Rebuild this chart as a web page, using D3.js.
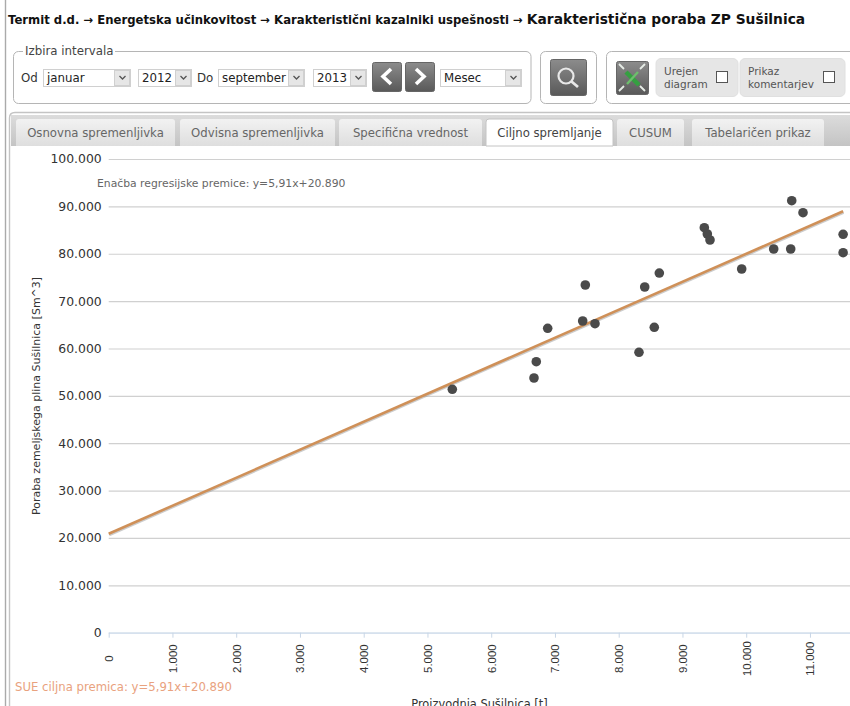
<!DOCTYPE html>
<html>
<head>
<meta charset="utf-8">
<script src="https://cdn.jsdelivr.net/npm/d3@7"></script>
<style>
  html, body { margin: 0; padding: 0; background: #fff; overflow: hidden; }
  text { font-family: "DejaVu Sans", sans-serif; }
</style>
</head>
<body>
<div id="chart"></div>
<script>
// values
var prodX = [5390, 6671, 6707, 6886, 7435, 7476, 7628, 8318, 8408, 8558, 8637, 9343, 9390, 9432, 9929, 10431, 10698, 10714, 10891, 11520, 11520];
var gasY = [51380, 53770, 57210, 64260, 65800, 73400, 65230, 59190, 72980, 64470, 75930, 85500, 84170, 82900, 76780, 81000, 81000, 91200, 88660, 84100, 80220];
var lineX = [0, 11520];
var lineY = [20890, 88970];
var xTicks = [0, 1000, 2000, 3000, 4000, 5000, 6000, 7000, 8000, 9000, 10000, 11000];
var yTicks = [0, 10000, 20000, 30000, 40000, 50000, 60000, 70000, 80000, 90000, 100000];
var tabNames = ['Osnovna spremenljivka', 'Odvisna spremenljivka', 'Specifična vrednost', 'Ciljno spremljanje', 'CUSUM', 'Tabelaričen prikaz'];

var w = 850, h = 706;
var svg = d3.select('#chart').append('svg')
    .attr('width', w)
    .attr('height', h)
    .style('display', 'block');

var defs = svg.append('defs');
function gradient(id, top, bottom) {
    var g = defs.append('linearGradient').attr('id', id).attr('x1', 0).attr('x2', 0).attr('y1', 0).attr('y2', 1);
    g.append('stop').attr('offset', '0%').attr('stop-color', top);
    g.append('stop').attr('offset', '100%').attr('stop-color', bottom);
}
gradient('strip', '#dcdcdc', '#c4c4c4');
gradient('tab', '#f2f2f2', '#dedede');
gradient('btn', '#8c8c8c', '#595959');

// page borders
svg.append('line').attr('x1', 5.5).attr('x2', 5.5).attr('y1', 0).attr('y2', h).attr('stroke', '#aaa').attr('stroke-width', 1.4);
svg.append('path').attr('d', 'M850,112.5H15Q9.5,112.5 9.5,118V706').attr('fill', 'none').attr('stroke', '#c4c4c4').attr('stroke-width', 1.4);

// breadcrumb
var crumb = svg.append('text').attr('x', 8).attr('y', 24).attr('fill', '#111');
crumb.append('tspan').attr('font-size', 11.66).attr('font-weight', 'bold').text('Termit d.d. → Energetska učinkovitost → Karakteristični kazalniki uspešnosti → ');
crumb.append('tspan').attr('font-size', 13.8).attr('font-weight', 'bold').text('Karakteristična poraba ZP Sušilnica');

// toolbar helpers
function box(x, y, bw, bh, r, fill, stroke) {
    return svg.append('rect').attr('x', x).attr('y', y).attr('width', bw).attr('height', bh).attr('rx', r)
        .attr('fill', fill).attr('stroke', stroke);
}
function label(x, y, txt, size, color) {
    return svg.append('text').attr('x', x).attr('y', y).attr('font-size', size).attr('fill', color).text(txt);
}
function select(x, bw, txt) {
    box(x + 0.5, 69.5, bw, 17, 0, '#fff', '#d0d0d0');
    box(x + bw - 15.5, 70.5, 15, 15, 0, '#e6e6e6', '#d0d0d0');
    svg.append('path').attr('d', 'M' + (x + bw - 10.5) + ',76l3,3l3,-3').attr('fill', 'none').attr('stroke', '#555').attr('stroke-width', 1.3);
    label(x + 4, 82, txt, 11.8, '#222');
}
function button(x, y, bw, bh) {
    box(x + 0.5, y + 0.5, bw, bh, 2, 'url(#btn)', '#666');
}

box(13.5, 51.5, 517.5, 52, 5, '#fff', '#b5b5b5');
svg.append('rect').attr('x', 23).attr('y', 46).attr('width', 92).attr('height', 10).attr('fill', '#fff');
label(25, 54.5, 'Izbira intervala', 11.8, '#444');
label(21, 82, 'Od', 11.8, '#333');
select(43, 87, 'januar');
select(138, 53, '2012');
label(197, 82, 'Do', 11.8, '#333');
select(218, 86, 'september');
select(313, 53, '2013');
button(372, 62, 29, 29);
svg.append('path').attr('d', 'M391,69l-8,7.5l8,7.5').attr('fill', 'none').attr('stroke', '#fff').attr('stroke-width', 3.6);
button(405, 62, 29, 29);
svg.append('path').attr('d', 'M416,69l8,7.5l-8,7.5').attr('fill', 'none').attr('stroke', '#fff').attr('stroke-width', 3.6);
select(440, 81, 'Mesec');

box(540.5, 51.5, 56, 52, 5, '#fff', '#b5b5b5');
button(550, 59, 36, 36);
svg.append('circle').attr('cx', 566).attr('cy', 76).attr('r', 7.5).attr('fill', 'none').attr('stroke', '#e8e8e8').attr('stroke-width', 2.2);
svg.append('line').attr('x1', 571.5).attr('y1', 81.5).attr('x2', 578).attr('y2', 87).attr('stroke', '#e8e8e8').attr('stroke-width', 2.8);

box(606.5, 51.5, 260, 52, 5, '#fff', '#b5b5b5');
button(616, 61, 32, 33);
svg.append('path').attr('d', 'M626,72L639,85').attr('stroke', '#35a041').attr('stroke-width', 4.5).attr('fill', 'none');
svg.append('path').attr('d', 'M638,72L627,84').attr('stroke', '#6cbf6c').attr('stroke-width', 2.4).attr('fill', 'none');
svg.append('path').attr('d', 'M619,64l5,5M645,64l-5,5M619,91l5,-5M645,91l-5,-5').attr('stroke', '#e6ece6').attr('stroke-width', 1.8).attr('fill', 'none');

box(656, 58.5, 82, 38, 5, '#e6e6e6', '#e0e0e0');
label(664, 75, 'Urejen', 10.5, '#555');
label(664, 88, 'diagram', 10.5, '#555');
box(716.5, 71.5, 11, 11, 0, '#fff', '#555');
box(740, 58.5, 105, 38, 5, '#e6e6e6', '#e0e0e0');
label(748, 75, 'Prikaz', 10.5, '#555');
label(748, 88, 'komentarjev', 10.5, '#555');
box(823.5, 71.5, 11, 11, 0, '#fff', '#555');

// tab strip
svg.append('rect').attr('x', 11).attr('y', 115).attr('width', 839).attr('height', 31).attr('fill', 'url(#strip)');
var tabEdges = [[16, 175], [180, 335], [339, 482], [486, 613], [617, 684], [692, 824]];
var tabs = svg.selectAll('g.tab').data(tabNames).enter().append('g').attr('class', 'tab');
tabs.append('path')
    .attr('d', function(d, i) {
        var e = tabEdges[i];
        return 'M' + e[0] + ',146V122Q' + e[0] + ',119 ' + (e[0] + 3) + ',119H' + (e[1] - 3) + 'Q' + e[1] + ',119 ' + e[1] + ',122V146Z';
    })
    .attr('fill', function(d, i) { return i === 3 ? '#fff' : 'url(#tab)'; })
    .attr('stroke', function(d, i) { return i === 3 ? '#c4c4c4' : 'none'; });
tabs.append('text')
    .attr('x', function(d, i) { return (tabEdges[i][0] + tabEdges[i][1]) / 2; })
    .attr('y', 137)
    .attr('text-anchor', 'middle')
    .attr('font-size', 11.7)
    .attr('fill', function(d, i) { return i === 3 ? '#444' : '#666'; })
    .text(function(d) { return d; });

// scales, the x range runs past the last tick up to the window edge
var x = d3.scaleLinear().domain([0, 11628]).range([108.7, 850]);
var y = d3.scaleLinear().domain([0, 100000]).range([632.7, 159]);
var fmt = d3.formatLocale({decimal: ',', thousands: '.', grouping: [3], currency: ['', '']}).format(',d');

var plot = svg.append('g');

// y axis with full width grid lines
var yAxis = plot.append('g')
    .attr('transform', 'translate(108.7,0)')
    .call(d3.axisLeft(y).tickValues(yTicks).tickFormat(fmt).tickSize(-(850 - 108.7)).tickPadding(7));
yAxis.select('.domain').remove();
yAxis.selectAll('line').attr('stroke', function(d) { return d === 0 ? '#d3dfec' : '#d0d0d0'; }).attr('stroke-width', 1.2);
yAxis.selectAll('text').attr('font-size', 12.4).attr('fill', '#333').style('font-family', '"DejaVu Sans", sans-serif');

// x axis
var xAxis = plot.append('g')
    .attr('transform', 'translate(0,' + y(0) + ')')
    .call(d3.axisBottom(x).tickValues(xTicks).tickFormat(fmt).tickSize(5).tickSizeOuter(0));
xAxis.select('.domain').attr('stroke', '#d3dfec').attr('stroke-width', 1.2);
xAxis.selectAll('line').attr('stroke', '#c8d6e6');
xAxis.selectAll('text')
    .attr('transform', 'translate(0,26) rotate(-90)')
    .attr('x', 0).attr('y', 4).attr('dy', 0)
    .attr('text-anchor', 'middle')
    .attr('font-size', 11.4)
    .attr('fill', '#333')
    .style('font-family', '"Liberation Sans", sans-serif');

// regression line
var lineData = lineX.map(function(d, i) { return [d, lineY[i]]; });
var line = d3.line().x(function(d) { return x(d[0]); }).y(function(d) { return y(d[1]); });
plot.append('path').datum(lineData).attr('d', line).attr('fill', 'none')
    .attr('stroke', '#999').attr('stroke-opacity', 0.5).attr('stroke-width', 2.6)
    .attr('transform', 'translate(0.5,1.2)');
plot.append('path').datum(lineData).attr('d', line).attr('fill', 'none')
    .attr('stroke', '#cf9058').attr('stroke-width', 2.6);

// points
plot.selectAll('circle.pt')
    .data(prodX)
    .enter().append('circle')
    .attr('class', 'pt')
    .attr('cx', function(d) { return x(d); })
    .attr('cy', function(d, i) { return y(gasY[i]); })
    .attr('r', 4.8)
    .attr('fill', '#4a4a4a');

// titles and equation notes
label(97, 186.5, 'Enačba regresijske premice: y=5,91x+20.890', 10.8, '#666');
label(15, 691, 'SUE ciljna premica: y=5,91x+20.890', 11.7, '#e9a27e');
svg.append('text').attr('transform', 'translate(40,396) rotate(-90)').attr('text-anchor', 'middle')
    .attr('font-size', 11).attr('fill', '#333').text('Poraba zemeljskega plina Sušilnica [Sm^3]');
svg.append('text').attr('x', 479.5).attr('y', 708).attr('text-anchor', 'middle')
    .attr('font-size', 11.4).attr('fill', '#333').text('Proizvodnja Sušilnica [t]');
</script>
</body>
</html>
